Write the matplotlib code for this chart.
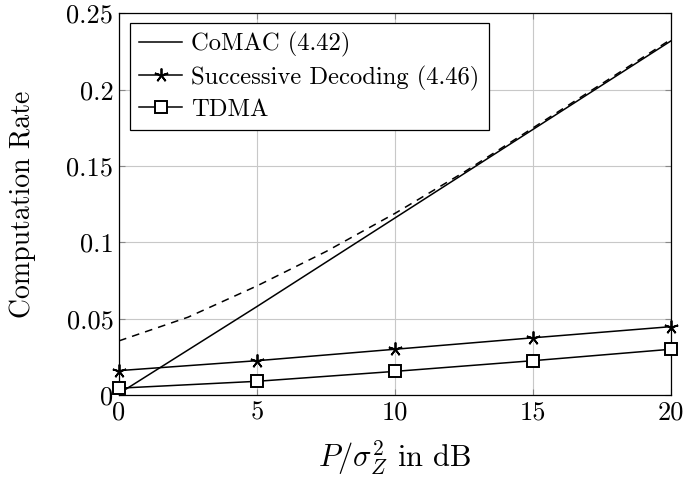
import numpy as np
import matplotlib
matplotlib.use('Agg')
import matplotlib.pyplot as plt

plt.rcParams['font.family'] = ['cmr10', 'DejaVu Serif']
plt.rcParams['mathtext.fontset'] = 'cm'
plt.rcParams['axes.formatter.use_mathtext'] = True

# data
snr = [0, 5, 10, 15, 20]
comac = [0.001, 0.058, 0.116, 0.174, 0.232]
succ = [0.016, 0.0225, 0.030, 0.0375, 0.0448]
tdma = [0.0045, 0.009, 0.0155, 0.0225, 0.030]

snr_dash = [0, 2.5, 5, 7.5, 10, 12.5, 15, 17.5, 20]
dashed = [0.0355, 0.051, 0.0715, 0.094, 0.119, 0.146, 0.175, 0.204, 0.233]

xticks = [0, 5, 10, 15, 20]
yticks = [0, 0.05, 0.1, 0.15, 0.2, 0.25]
ytick_labels = ['0', '0.05', '0.1', '0.15', '0.2', '0.25']

fig = plt.figure(figsize=(6.86, 4.8), dpi=100)
ax = fig.add_axes([0.1735, 0.177, 0.8045, 0.795])

ax.plot(snr, comac, color='black', lw=1.1, label='CoMAC (4.42)')
ax.plot(snr, succ, color='black', lw=1.1, marker=(5, 2, 0), ms=10, mew=1.3,
        label='Successive Decoding (4.46)', clip_on=False, zorder=5)
ax.plot(snr, tdma, color='black', lw=1.1, marker='s', ms=8, mfc='white', mew=1.4,
        label='TDMA', clip_on=False, zorder=5)
ax.plot(snr_dash, dashed, color='black', lw=1.1, ls=(0, (5, 4)))

ax.set_xlim(0, 20)
ax.set_ylim(0, 0.25)
ax.set_xticks(xticks)
ax.set_xticklabels([str(t) for t in xticks])
ax.set_yticks(yticks)
ax.set_yticklabels(ytick_labels)
ax.tick_params(direction='in', top=True, right=True, labelsize=19, length=4,
               color='#888888', pad=4)
ax.grid(True, color='#c8c8c8', lw=0.8)
ax.set_axisbelow(True)
for s in ax.spines.values():
    s.set_linewidth(0.9)

ax.set_xlabel(r'$P/\sigma_Z^2$ in dB', fontsize=22, labelpad=10)
ax.set_ylabel('Computation Rate', fontsize=20, labelpad=22)

leg = ax.legend(loc='upper left', bbox_to_anchor=(130 / 686, 1 - 23 / 480),
                bbox_transform=fig.transFigure, borderaxespad=0,
                fontsize=17.7, fancybox=False, framealpha=1,
                edgecolor='black', handlelength=1.75, handletextpad=0.37,
                labelspacing=0.34, borderpad=0.37)
leg.get_frame().set_linewidth(0.9)

fig.savefig('out.png', dpi=100)
